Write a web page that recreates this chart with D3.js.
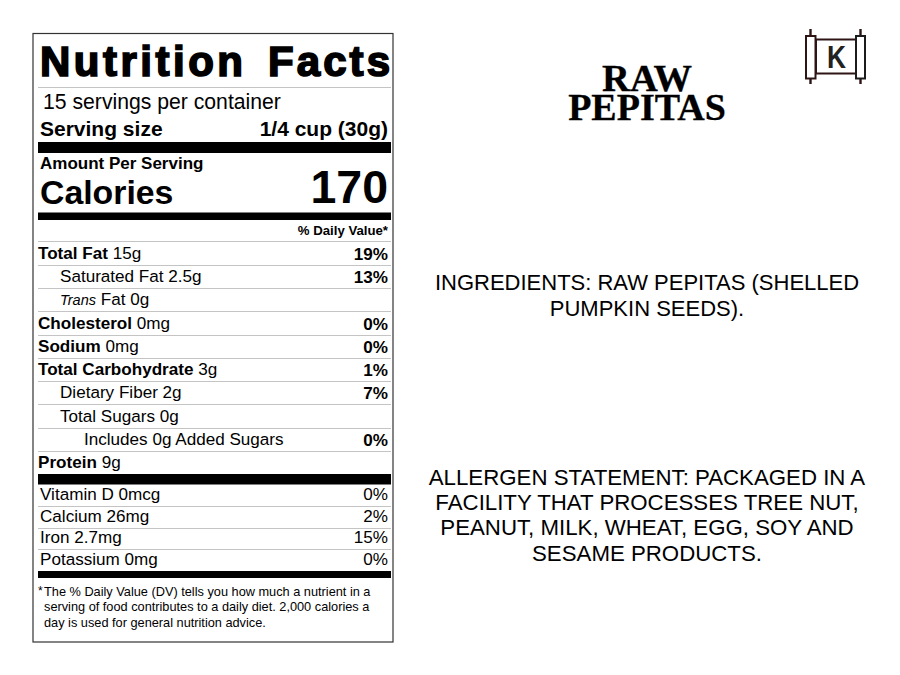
<!DOCTYPE html>
<html><head><meta charset="utf-8">
<script src="https://cdn.jsdelivr.net/npm/d3@7"></script>
<style>html,body{margin:0;padding:0;background:#fff}svg{display:block}text{font-family:"Liberation Sans",Arial,sans-serif;fill:#000}</style>
</head><body><svg id="c" width="900" height="675"></svg>
<script>
const nutrientBold = ["Total Fat","","","Cholesterol","Sodium","Total Carbohydrate","","","","Protein"];
const nutrientPlain = [" 15g","Saturated Fat 2.5g"," Fat 0g"," 0mg"," 0mg"," 3g","Dietary Fiber 2g","Total Sugars 0g","Includes 0g Added Sugars"," 9g"];
const nutrientIndent = [0,1,1,0,0,0,1,1,2,0];
const nutrientDaily = ["19%","13%","","0%","0%","1%","7%","","0%",""];
const vitaminNames = ["Vitamin D 0mcg","Calcium 26mg","Iron 2.7mg","Potassium 0mg"];
const vitaminDaily = ["0%","2%","15%","0%"];
const footnote = ["The % Daily Value (DV) tells you how much a nutrient in a","serving of food contributes to a daily diet. 2,000 calories a","day is used for general nutrition advice."];
const ingredients = ["INGREDIENTS: RAW PEPITAS (SHELLED","PUMPKIN SEEDS)."];
const allergens = ["ALLERGEN STATEMENT: PACKAGED IN A","FACILITY THAT PROCESSES TREE NUT,","PEANUT, MILK, WHEAT, EGG, SOY AND","SESAME PRODUCTS."];

const svg = d3.select("#c");
const L=38, R=391, TR=388;
const txt=(x,y,s,size,o={})=>{const t=svg.append("text").attr("x",x).attr("y",y).attr("font-size",size).attr("text-anchor",o.a||"start").attr("font-weight",o.b?"bold":"normal").text(s);if(o.len)t.attr("textLength",o.len).attr("lengthAdjust",o.adj||"spacing");if(o.sw)t.style("stroke","#000").style("stroke-width",o.sw);return t;};
const bar=(y0,y1)=>svg.append("rect").attr("x",L).attr("width",R-L).attr("y",y0).attr("height",y1-y0).attr("fill","#000");
const rule=(y)=>svg.append("line").attr("x1",L).attr("x2",R).attr("y1",y).attr("y2",y).attr("stroke","#c4c4c4").attr("stroke-width",1);

svg.append("rect").attr("x",33).attr("y",33.5).attr("width",360).attr("height",608.5).attr("fill","#fff").attr("stroke","#333").attr("stroke-width",1.2);

txt(40,76,"Nutrition",42,{b:1,len:203,sw:1.7});
txt(268,76,"Facts",42,{b:1,len:122,sw:1.7});
rule(87.5);
txt(43,109,"15 servings per container",21.2);
txt(40,136,"Serving size",21,{b:1});
txt(TR,136,"1/4 cup (30g)",21,{b:1,a:"end"});
bar(142,153);
txt(40,169,"Amount Per Serving",17,{b:1});
txt(40,204,"Calories",33.8,{b:1});
txt(TR,203,"170",46.5,{b:1,a:"end"});
bar(212.5,220);
txt(TR,235,"% Daily Value*",13.2,{b:1,a:"end"});
rule(241.5);

const yN = d3.scaleLinear().domain([0,9]).range([259,468]);
const xIndent = d3.scaleOrdinal().domain([0,1,2]).range([38,60,84]);
nutrientBold.forEach((b,i)=>{
  const y=yN(i), t=svg.append("text").attr("x",xIndent(nutrientIndent[i])).attr("y",y).attr("font-size",17.1);
  if(i===2){ t.append("tspan").attr("font-style","italic").attr("font-size",14.5).text("Trans"); }
  if(b) t.append("tspan").attr("font-weight","bold").text(b);
  t.append("tspan").text(nutrientPlain[i]);
  if(nutrientDaily[i]) txt(TR,y+1,nutrientDaily[i],17.1,{b:1,a:"end"});
  if(i<9) rule(Math.round(y+6)+.5);
});
bar(474,484.5);

const yV = d3.scaleLinear().domain([0,3]).range([500,565]);
vitaminNames.forEach((n,i)=>{
  const y=yV(i);
  txt(40,y,n,17.1);
  txt(TR,y,vitaminDaily[i],17.1,{a:"end"});
  if(i<3) rule(Math.round(y+6)+.5);
});
bar(571,578);

txt(38,595,"*",12);
footnote.forEach((s,i)=>txt(44,595.5+i*15.7,s,12.75));

txt(647,91,"RAW",38.5,{a:"middle",sw:.3}).attr("font-weight","bold").style("font-family","'Liberation Serif',serif");
txt(647,119.5,"PEPITAS",38,{a:"middle",sw:.3}).attr("font-weight","bold").style("font-family","'Liberation Serif',serif");

ingredients.forEach((s,i)=>txt(647,290+i*26,s,22,{a:"middle"}));
allergens.forEach((s,i)=>txt(647,485+i*25.2,s,22.25,{a:"middle"}));

// logo
const lg=svg.append("g").attr("fill","#fff").attr("stroke","#2e1414").attr("stroke-width",2);
lg.append("line").attr("x1",810.5).attr("x2",810.5).attr("y1",29).attr("y2",84).attr("stroke-width",2.4);
lg.append("line").attr("x1",860.5).attr("x2",860.5).attr("y1",29).attr("y2",84).attr("stroke-width",2.4);
lg.append("rect").attr("x",816).attr("y",39.5).attr("width",40).attr("height",34);
lg.append("rect").attr("x",806).attr("y",36).attr("width",9.5).attr("height",42.5);
lg.append("rect").attr("x",856).attr("y",36).attr("width",9).attr("height",42.5).attr("stroke","#1c1c1c");
txt(827,68,"K",32,{b:1,len:19,adj:"spacingAndGlyphs"}).style("fill","#222");
</script></body></html>
